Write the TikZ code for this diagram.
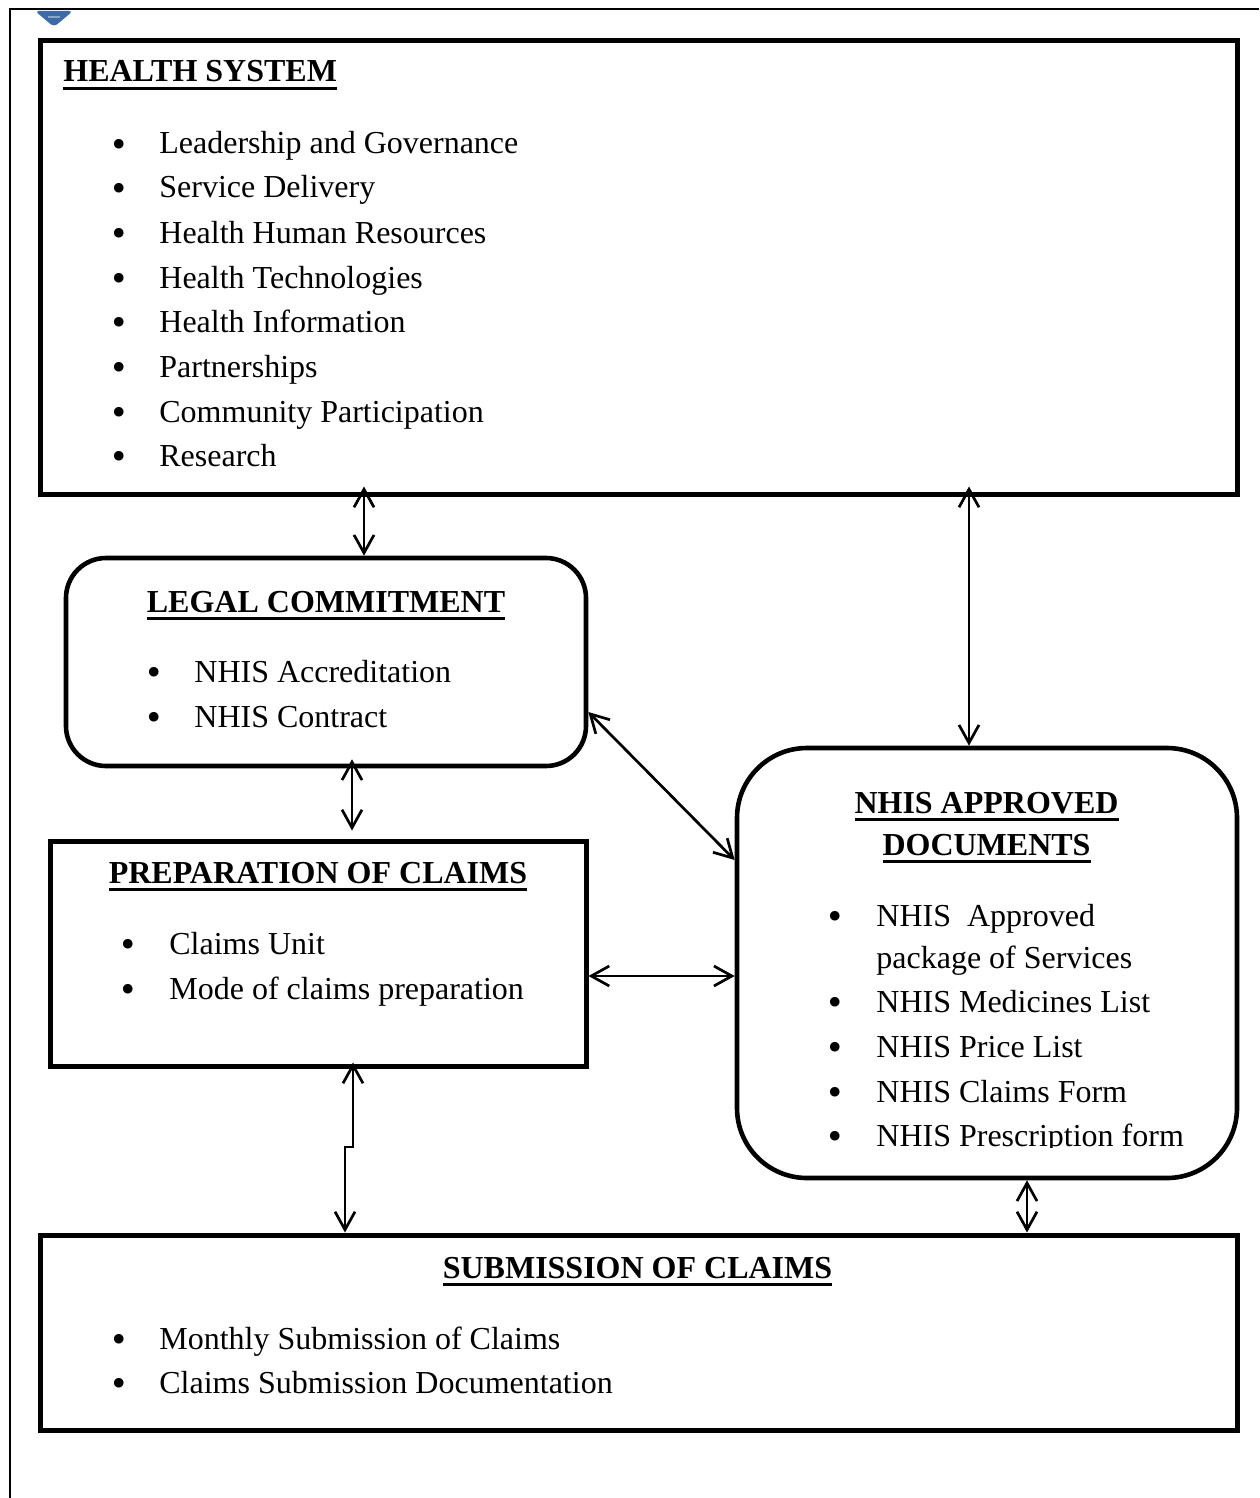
\documentclass[tikz,border=0pt]{standalone}
\usepackage{fontspec}
\setmainfont{Liberation Serif}
\newfontfamily\bulfont{DejaVu Sans}
\usetikzlibrary{arrows.meta}
\newsavebox\tulbox
\newcommand{\tul}[1]{\sbox\tulbox{#1}\rlap{\rule[-4pt]{\wd\tulbox}{1.6pt}}\usebox\tulbox}
\definecolor{chevblue}{RGB}{62,107,168}
\tikzset{
    boxs/.style = {rectangle, line width=2.5pt, draw=black, inner sep=0pt},
    boxr/.style = {rectangle, line width=2.3pt, draw=black, inner sep=0pt},
    ttl/.style = {inner sep=0pt, anchor=base, font=\fontsize{16}{19}\selectfont\bfseries},
    itm/.style = {inner sep=0pt, anchor=base west, font=\fontsize{16}{19}\selectfont},
    blt/.style = {inner sep=0pt, anchor=base, yshift=-1.2pt, font=\bulfont\fontsize{16.5}{19}\selectfont},
    edgeb/.style = {{Straight Barb[length=9pt,width=10pt]}-{Straight Barb[length=9pt,width=10pt]}, line width=1.35pt, black}, % both ways
}

\begin{document}
\begin{tikzpicture}[x=0.5pt, y=-0.5pt]
  \useasboundingbox (0,0) rectangle (1259,1498);

  % page frame and marker
  \draw[line width=1.25pt] (10,1498) -- (10,9) -- (1259,9);
  \fill[chevblue, rounded corners=2pt] (35,11) -- (73,11) -- (54,27) -- cycle;
  \fill[chevblue!60!white] (48,16) rectangle (60,18);

  % health system
  \node[boxs, minimum width=598.5pt, minimum height=226.5pt] (hs) at (638.5,267.5) {};
  \node[ttl, anchor=base west] (hs-t) at (63,82) {\tul{HEALTH SYSTEM}};
  \node[blt] (hs-b1) at (119,154) {•};
  \node[itm] (hs-1) at (159,154) {Leadership and Governance};
  \node[blt] (hs-b2) at (119,198) {•};
  \node[itm] (hs-2) at (159,198) {Service Delivery};
  \node[blt] (hs-b3) at (119,243) {•};
  \node[itm] (hs-3) at (159,243) {Health Human Resources};
  \node[blt] (hs-b4) at (119,288) {•};
  \node[itm] (hs-4) at (159,288) {Health Technologies};
  \node[blt] (hs-b5) at (119,332) {•};
  \node[itm] (hs-5) at (159,332) {Health Information};
  \node[blt] (hs-b6) at (119,377) {•};
  \node[itm] (hs-6) at (159,377) {Partnerships};
  \node[blt] (hs-b7) at (119,422) {•};
  \node[itm] (hs-7) at (159,422) {Community Participation};
  \node[blt] (hs-b8) at (119,466) {•};
  \node[itm] (hs-8) at (159,466) {Research};

  % legal commitment
  \node[boxr, rounded corners=20pt, minimum width=260pt, minimum height=104pt] (lc) at (326,662) {};
  \node[ttl] (lc-t) at (326,612) {\tul{LEGAL COMMITMENT}};
  \node[blt] (lc-b1) at (154,682) {•};
  \node[itm] (lc-1) at (194,682) {NHIS Accreditation};
  \node[blt] (lc-b2) at (154,727) {•};
  \node[itm] (lc-2) at (194,727) {NHIS Contract};

  % preparation of claims
  \node[boxs, minimum width=268pt, minimum height=112.5pt] (pc) at (318,953.5) {};
  \node[ttl] (pc-t) at (318,883) {\tul{PREPARATION OF CLAIMS}};
  \node[blt] (pc-b1) at (128,954) {•};
  \node[itm] (pc-1) at (169,954) {Claims Unit};
  \node[blt] (pc-b2) at (128,999) {•};
  \node[itm] (pc-2) at (169,999) {Mode of claims preparation};

  % nhis approved documents
  \node[boxr, rounded corners=35pt, minimum width=250pt, minimum height=215pt] (nd) at (987,963) {};
  \node[ttl] (nd-t1) at (986.5,813) {\tul{NHIS APPROVED}};
  \node[ttl] (nd-t2) at (986.5,855) {\tul{DOCUMENTS}};
  \node[blt] (nd-b1) at (835,926) {•};
  \node[itm] (nd-1) at (876,926) {NHIS\ \ Approved};
  \node[itm] (nd-1b) at (876,968) {package of Services};
  \node[blt] (nd-b2) at (835,1012) {•};
  \node[itm] (nd-2) at (876,1012) {NHIS Medicines List};
  \node[blt] (nd-b3) at (835,1057) {•};
  \node[itm] (nd-3) at (876,1057) {NHIS Price List};
  \node[blt] (nd-b4) at (835,1102) {•};
  \node[itm] (nd-4) at (876,1102) {NHIS Claims Form};
  \begin{scope}
    \clip (820,1110) rectangle (1200,1147);
    \node[blt] (nd-b5) at (835,1146) {•};
    \node[itm] (nd-5) at (876,1146) {NHIS Prescription form};
  \end{scope}

  % submission of claims
  \node[boxs, minimum width=598.5pt, minimum height=97.5pt] (sc) at (638.5,1332.5) {};
  \node[ttl] (sc-t) at (637.5,1278) {\tul{SUBMISSION OF CLAIMS}};
  \node[blt] (sc-b1) at (119,1349) {•};
  \node[itm] (sc-1) at (159,1349) {Monthly Submission of Claims};
  \node[blt] (sc-b2) at (119,1393) {•};
  \node[itm] (sc-2) at (159,1393) {Claims Submission Documentation};

  % links
  \draw[edgeb] ([yshift=5pt]364,0 |- hs.south) -- (364,0 |- lc.north);
  \draw[edgeb] ([yshift=5pt]969,0 |- hs.south) -- (969,0 |- nd.north);
  \draw[edgeb] ([yshift=4.5pt]352,0 |- lc.south) -- ([yshift=4pt]352,0 |- pc.north);
  \draw[edgeb] (lc.east |- 0,712) -- (nd.west |- 0,860);
  \draw[edgeb] (pc.east |- 0,976) -- (nd.west |- 0,976);
  \draw[edgeb] ([yshift=3pt]353,0 |- pc.south) -- (353,1147) -- (345,1147) -- (345,0 |- sc.north);
  \draw[edgeb] (1027,0 |- nd.south) -- (1027,0 |- sc.north);

\end{tikzpicture}
\end{document}
